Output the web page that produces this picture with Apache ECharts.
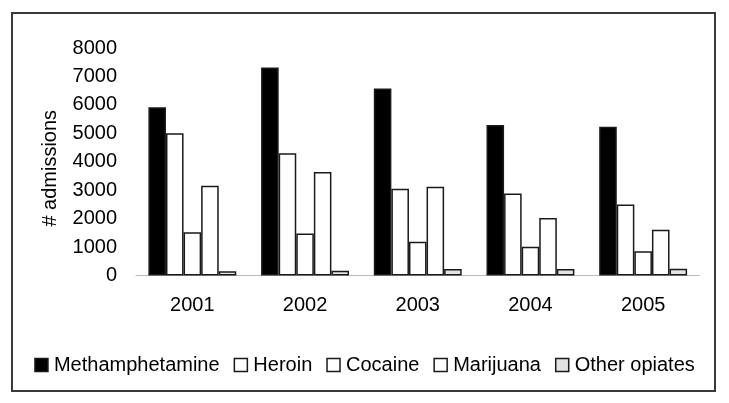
<!DOCTYPE html>
<html>
<head>
<meta charset="utf-8">
<script src="https://cdn.jsdelivr.net/npm/echarts@6/dist/echarts.min.js"></script>
<style>
html,body{margin:0;padding:0;background:#fff;}
#chart{width:729px;height:403px;}
</style>
</head>
<body>
<div id="chart"></div>
<script>
var years = ['2001', '2002', '2003', '2004', '2005'];
var methamphetamine = [5920, 7310, 6580, 5290, 5230];
var heroin = [5000, 4300, 3050, 2880, 2500];
var cocaine = [1520, 1480, 1190, 1010, 850];
var marijuana = [3160, 3640, 3120, 2020, 1610];
var otherOpiates = [150, 170, 230, 230, 240];
var yTicks = [0, 1000, 2000, 3000, 4000, 5000, 6000, 7000, 8000];

var font = 'Liberation Sans, Arial, sans-serif';
var chart = echarts.init(document.getElementById('chart'), null, {renderer: 'canvas'});

function bar(name, data, fill) {
  return {
    name: name,
    type: 'bar',
    data: data,
    barGap: '0%',
    barCategoryGap: '22%',
    itemStyle: {color: fill, borderColor: '#1a1a1a', borderWidth: 1.5},
    emphasis: {disabled: true},
    animation: false
  };
}

chart.setOption({
  animation: false,
  graphic: [{
    type: 'rect',
    shape: {x: 12, y: 13, width: 703, height: 378},
    style: {fill: 'none', stroke: '#3a3a3a', lineWidth: 2},
    silent: true,
    z: -1
  }],
  grid: {left: 136, right: 29.5, top: 48, bottom: 127.5},
  xAxis: {
    type: 'category',
    data: years,
    axisTick: {show: false},
    axisLine: {show: true, lineStyle: {color: '#bbb', width: 1}},
    axisLabel: {color: '#000', fontSize: 20, fontFamily: font, margin: 20}
  },
  yAxis: {
    type: 'value',
    min: yTicks[0],
    max: yTicks[yTicks.length - 1],
    interval: yTicks[1] - yTicks[0],
    name: '# admissions',
    nameLocation: 'middle',
    nameRotate: 90,
    nameGap: 76,
    nameTextStyle: {color: '#000', fontSize: 20, fontFamily: font, padding: [0, 13, 0, 0]},
    axisLine: {show: false},
    axisTick: {show: false},
    splitLine: {show: false},
    axisLabel: {color: '#000', fontSize: 20, fontFamily: font, margin: 19,
      formatter: function (v) { return String(v); }}
  },
  legend: {
    top: 350,
    left: 'center',
    itemWidth: 13,
    itemHeight: 13,
    itemGap: 14,
    icon: 'rect',
    selectedMode: false,
    textStyle: {color: '#000', fontSize: 20, fontFamily: font, padding: [0, 0, 0, 1]},
    itemStyle: {borderColor: '#1a1a1a', borderWidth: 1.5}
  },
  series: [
    bar('Methamphetamine', methamphetamine, '#000000'),
    bar('Heroin', heroin, '#ffffff'),
    bar('Cocaine', cocaine, '#ffffff'),
    bar('Marijuana', marijuana, '#ffffff'),
    bar('Other opiates', otherOpiates, '#e3e3e3')
  ]
});
</script>
</body>
</html>
